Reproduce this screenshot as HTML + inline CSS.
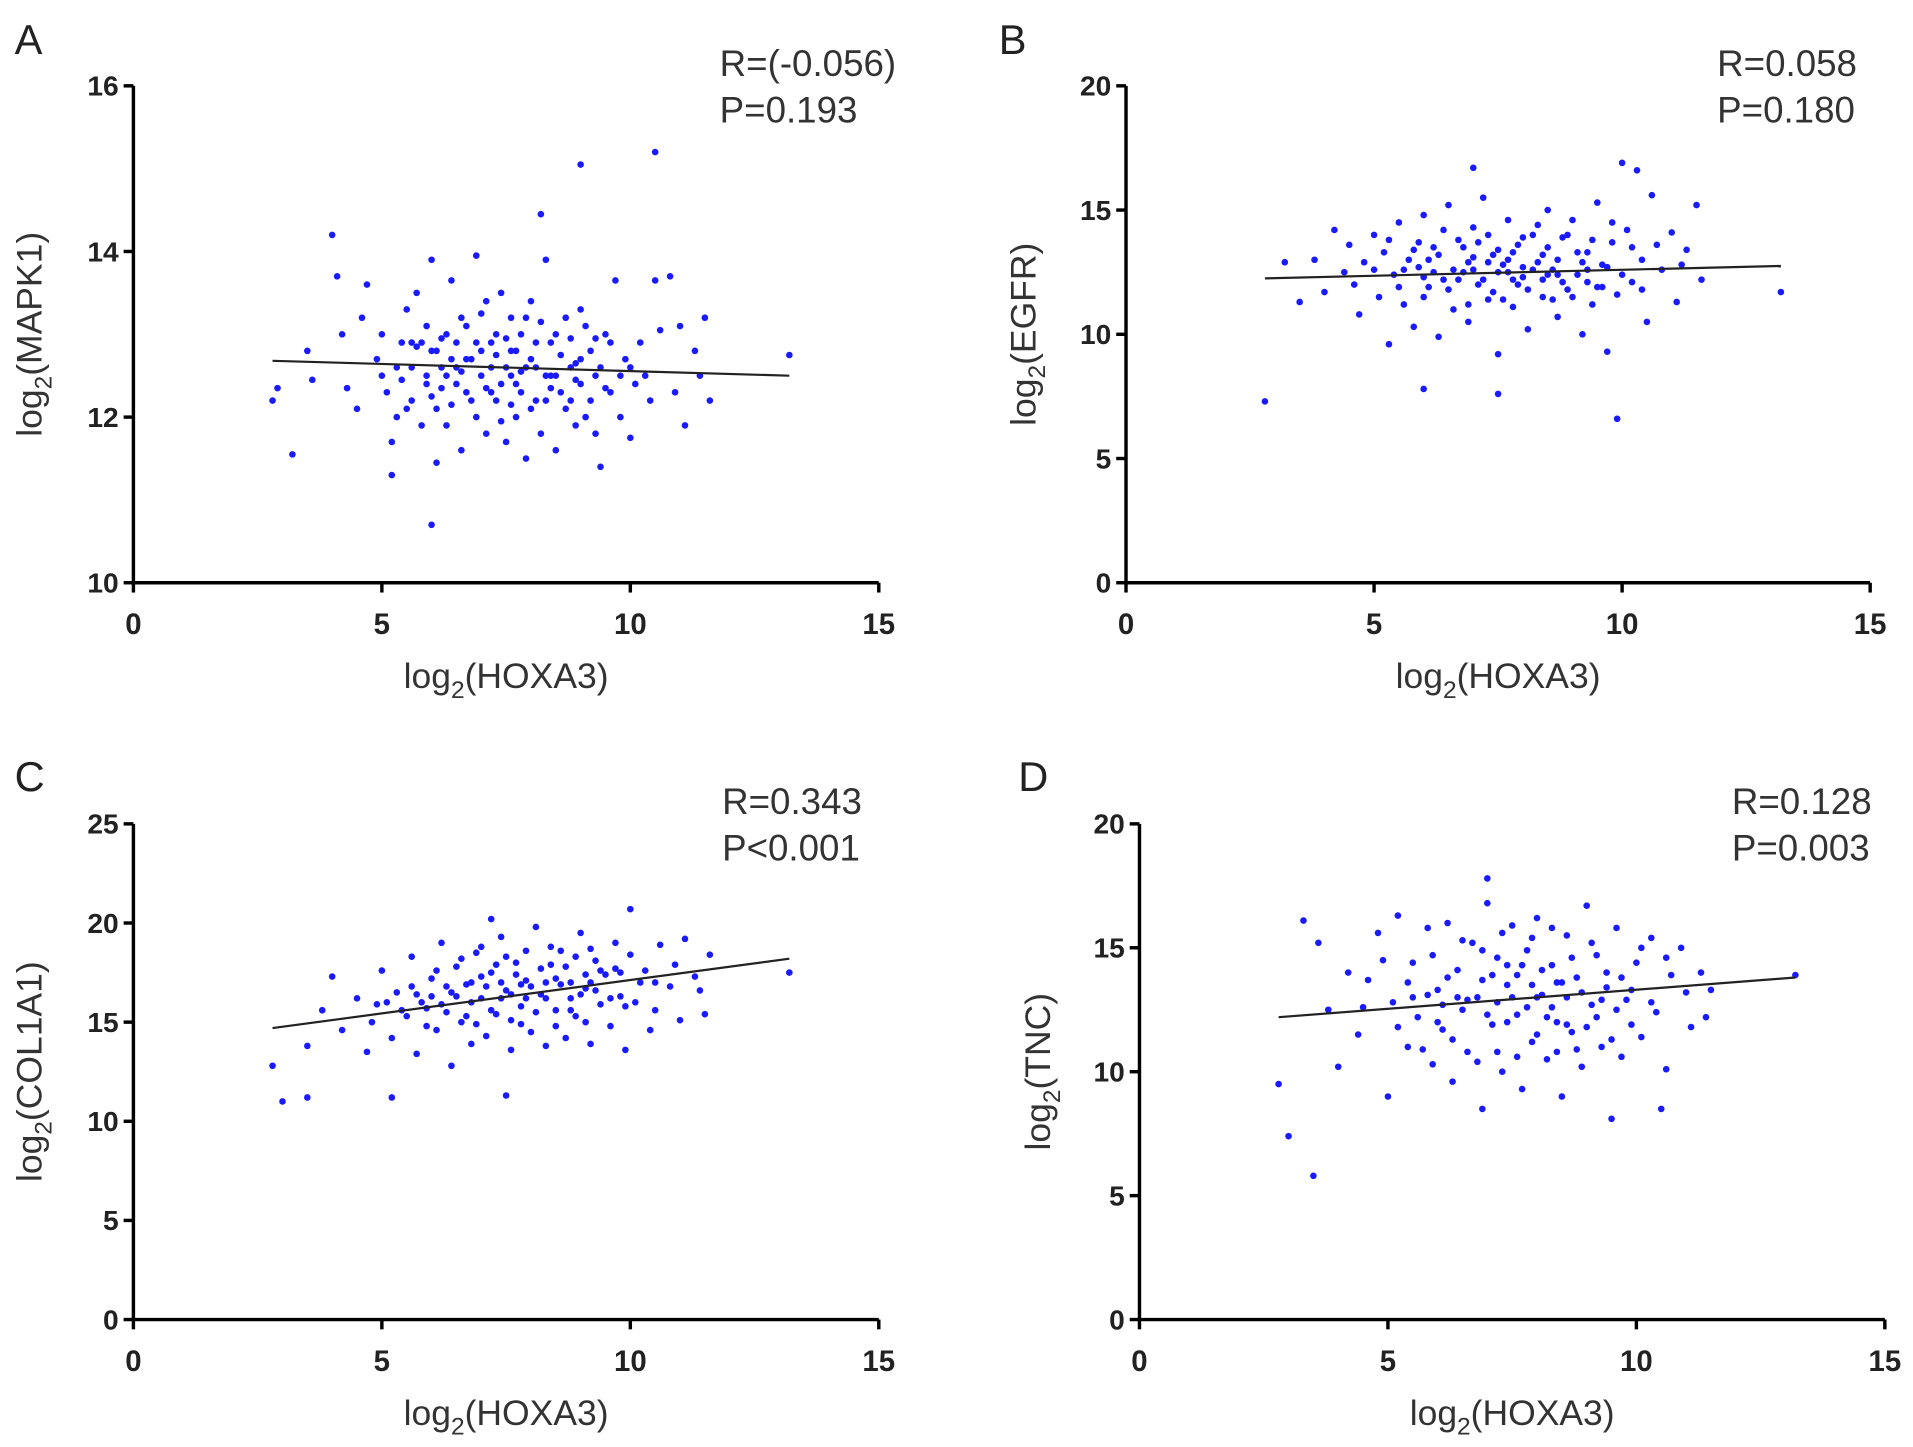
<!DOCTYPE html>
<html><head><meta charset="utf-8">
<style>
html,body{margin:0;padding:0;background:#fff;}
svg{display:block;font-family:"Liberation Sans",Arial,sans-serif;}
</style></head>
<body>
<svg id="fig" width="1913" height="1447" viewBox="0 0 1563 1182" xmlns="http://www.w3.org/2000/svg"></svg>
<script>
// ---- data ----
const xTicks = [0, 5, 10, 15];
const aTicks = [10, 12, 14, 16];
const bTicks = [0, 5, 10, 15, 20];
const cTicks = [0, 5, 10, 15, 20, 25];
const dTicks = [0, 5, 10, 15, 20];
const aLine = [[2.8, 12.68], [13.2, 12.5]];
const bLine = [[2.8, 12.25], [13.2, 12.75]];
const cLine = [[2.8, 14.7], [13.2, 18.2]];
const dLine = [[2.8, 12.2], [13.2, 13.8]];
const aStats = ["R=(-0.056)", "P=0.193"];
const bStats = ["R=0.058", "P=0.180"];
const cStats = ["R=0.343", "P<0.001"];
const dStats = ["R=0.128", "P=0.003"];
const mapk1Points = [[10.5,15.2],[9,15.05],[8.2,14.45],[4,14.2],[4.1,13.7],[6,10.7],[3.2,11.55],[5.2,11.3],[2.8,12.2],[13.2,12.75],[2.9,12.35],
[3.5,12.8],[3.6,12.45],[4.2,13.0],[4.3,12.35],[4.5,12.1],[4.6,13.2],[4.7,13.6],[4.9,12.7],[5.0,13.0],[5.1,12.3],[5.2,11.7],[5.3,12.0],[5.4,12.9],[5.5,13.3],[5.6,12.6],[5.6,12.2],[5.7,13.5],[5.8,12.9],[5.8,11.9],[5.9,12.4],[6.0,13.9],[6.0,12.8],[6.1,12.1],[6.1,11.45],[6.2,12.6],[6.3,13.0],[6.3,11.9],[6.4,13.65],[6.5,12.4],[6.5,12.9],[6.6,11.6],[6.7,13.1],[6.7,12.3],[6.8,12.7],[6.9,13.95],[6.9,12.0],[7.0,12.5],[7.1,13.4],[7.1,11.8],[7.2,12.9],[7.3,12.2],[7.4,13.5],[7.5,12.6],[7.5,11.7],[7.6,13.2],[7.7,12.4],[7.7,12.0],[7.8,13.0],[7.9,11.5],[8.0,12.7],[8.0,13.4],[8.1,12.2],[8.2,11.8],[8.3,13.9],[8.3,12.5],[8.4,12.9],[8.5,11.6],[8.6,12.3],[8.7,13.2],[8.8,12.6],[8.9,11.9],[9.0,13.3],[9.0,12.4],[9.1,12.0],[9.2,12.8],[9.3,11.8],[9.4,11.4],[9.5,13.0],[9.6,12.3],[9.7,13.65],[9.8,12.0],[9.9,12.7],[10.0,11.75],[10.1,12.4],[10.2,12.9],[10.4,12.2],[10.5,13.65],[10.6,13.05],[10.8,13.7],[10.9,12.3],[11.0,13.1],[11.1,11.9],[11.3,12.8],[11.5,13.2],[11.6,12.2],[11.4,12.5],[5.9,12.5],[6.4,12.7],[7.0,12.8],[7.4,12.4],[7.9,12.6],[8.5,12.5],[6.6,12.55],[7.6,12.5],[8.8,12.2],[9.4,12.6],[6.2,12.35],[7.3,12.75],[8.1,12.9],[5.4,12.45],[7.8,12.3],
[5.3,12.6],[5.5,12.1],[5.7,12.85],[5.9,13.1],[6.0,12.25],[6.2,12.95],[6.3,12.5],[6.4,12.15],[6.6,13.2],[6.7,12.7],[6.8,12.2],[6.9,12.9],[7.0,13.25],[7.1,12.35],[7.2,12.6],[7.3,13.0],[7.4,11.95],[7.5,12.95],[7.6,12.15],[7.7,12.8],[7.8,12.55],[7.9,13.2],[8.0,12.1],[8.1,12.6],[8.2,13.15],[8.3,12.2],[8.4,12.5],[8.5,13.0],[8.6,12.75],[8.7,12.1],[8.8,12.95],[8.9,12.45],[9.0,12.7],[9.1,13.1],[9.2,12.2],[9.3,12.5],[9.5,12.35],[9.6,12.9],[9.8,12.5],[10.0,12.6],[10.3,12.5],[5.0,12.5],[6.5,12.6],[7.2,12.3],[8.4,12.35],[9.3,12.95],[6.1,12.8],[7.6,12.8],[8.9,12.65],[5.6,12.9]];
const egfrPoints = [[2.8,7.3],[9.9,6.6],[13.2,11.7],[10.0,16.9],[7.0,16.7],[10.3,16.6],[6.0,7.8],[7.5,7.6],
[3.2,12.9],[3.5,11.3],[3.8,13.0],[4.0,11.7],[4.2,14.2],[4.4,12.5],[4.5,13.6],[4.7,10.8],[4.8,12.9],[5.0,14.0],[5.1,11.5],[5.2,13.3],[5.3,9.6],[5.4,12.4],[5.5,14.5],[5.6,11.2],[5.7,13.0],[5.8,10.3],[5.9,12.7],[6.0,14.8],[6.1,11.9],[6.2,13.5],[6.3,9.9],[6.4,12.2],[6.5,15.2],[6.6,11.0],[6.7,13.8],[6.8,12.5],[6.9,10.5],[7.0,14.3],[7.1,12.0],[7.2,15.5],[7.3,11.4],[7.4,13.2],[7.5,9.2],[7.6,12.8],[7.7,14.6],[7.8,11.1],[7.9,13.6],[8.0,12.3],[8.1,10.2],[8.2,14.0],[8.3,12.9],[8.4,11.5],[8.5,15.0],[8.6,12.6],[8.7,10.7],[8.8,13.9],[8.9,11.8],[9.0,14.6],[9.1,12.4],[9.2,10.0],[9.3,13.3],[9.4,11.2],[9.5,15.3],[9.6,12.8],[9.7,9.3],[9.8,13.7],[9.9,11.6],[10.1,14.2],[10.2,12.1],[10.4,13.0],[10.5,10.5],[10.6,15.6],[10.8,12.6],[11.0,14.1],[11.1,11.3],[11.3,13.4],[11.5,15.2],[11.6,12.2],[6.6,12.6],[7.3,12.9],[8.0,12.7],[8.7,12.4],[6.0,12.3],[7.8,12.2],[9.2,12.9],[5.6,12.6],[7.0,13.1],[8.4,13.2],[9.6,11.9],[6.3,13.2],[7.5,12.5],
[4.6,12.0],[5.0,12.6],[5.3,13.8],[5.5,11.9],[5.8,13.4],[6.0,11.5],[6.2,12.5],[6.4,14.2],[6.5,11.8],[6.7,12.2],[6.8,13.5],[6.9,11.2],[7.0,12.6],[7.1,13.7],[7.2,12.2],[7.3,14.0],[7.4,11.7],[7.5,13.4],[7.6,11.4],[7.7,12.5],[7.8,13.3],[7.9,12.0],[8.0,13.9],[8.1,11.8],[8.2,12.6],[8.3,14.4],[8.4,12.2],[8.5,13.5],[8.6,11.4],[8.7,13.0],[8.8,12.1],[8.9,14.0],[9.0,11.5],[9.1,13.3],[9.3,12.1],[9.4,13.8],[9.5,11.9],[9.7,12.7],[9.8,14.5],[10.0,12.4],[10.2,13.5],[10.4,11.8],[10.7,13.6],[11.2,12.8],[6.1,13.0],[6.9,12.9],[7.7,13.0],[8.5,12.4],[9.3,12.6],[5.9,13.7]];
const col1a1Points = [[2.8,12.8],[3,11],[3.5,11.2],[5.2,11.2],[7.5,11.3],[13.2,17.5],[10,20.7],[7.2,20.2],
[3.5,13.8],[3.8,15.6],[4.0,17.3],[4.2,14.6],[4.5,16.2],[4.7,13.5],[4.9,15.9],[5.0,17.6],[5.2,14.2],[5.3,16.5],[5.5,15.3],[5.6,18.3],[5.7,13.4],[5.8,16.0],[6.0,17.2],[6.1,14.6],[6.2,19.0],[6.3,15.5],[6.4,12.8],[6.5,17.8],[6.6,15.0],[6.7,16.9],[6.8,13.9],[6.9,18.5],[7.0,16.2],[7.1,14.3],[7.2,17.5],[7.3,15.4],[7.4,19.3],[7.5,16.6],[7.6,13.6],[7.7,18.0],[7.8,15.8],[7.9,17.1],[8.0,14.5],[8.1,19.8],[8.2,16.4],[8.3,13.8],[8.4,17.9],[8.5,15.6],[8.6,18.6],[8.7,14.2],[8.8,17.0],[8.9,15.3],[9.0,19.5],[9.1,16.7],[9.2,13.9],[9.3,18.1],[9.4,15.9],[9.5,17.4],[9.6,14.8],[9.7,19.0],[9.8,16.3],[9.9,13.6],[10.0,18.4],[10.1,16.0],[10.3,17.6],[10.4,14.6],[10.6,18.9],[10.8,16.8],[11.0,15.1],[11.1,19.2],[11.3,17.3],[11.5,15.4],[11.6,18.4],[6.3,16.8],[7.0,17.3],[7.8,16.9],[8.5,17.2],[9.2,17.0],[5.9,15.7],[6.8,16.0],[7.6,16.4],[8.8,16.2],[9.8,17.5],[10.5,17.0],[6.0,16.3],
[4.8,15.0],[5.1,16.0],[5.4,15.6],[5.6,16.8],[5.9,14.8],[6.1,17.6],[6.2,15.9],[6.4,16.5],[6.6,18.2],[6.7,15.3],[6.8,17.0],[6.9,14.9],[7.0,18.8],[7.1,16.8],[7.2,15.6],[7.3,17.9],[7.4,16.2],[7.5,18.3],[7.6,15.1],[7.7,17.4],[7.8,14.9],[7.9,18.6],[8.0,16.8],[8.1,15.5],[8.2,17.7],[8.3,16.2],[8.4,18.8],[8.5,14.8],[8.6,16.9],[8.7,17.8],[8.8,15.6],[8.9,18.3],[9.0,16.4],[9.1,15.0],[9.2,18.7],[9.3,16.6],[9.4,17.6],[9.6,16.2],[9.7,17.7],[9.9,15.8],[10.2,17.0],[10.5,15.6],[10.9,17.9],[11.4,16.6],[6.5,16.3],[7.4,17.0],[8.3,17.0],[9.1,17.4],[5.7,16.4],[7.9,16.2]];
const tncPoints = [[2.8,9.5],[3,7.4],[3.5,5.8],[7,17.8],[13.2,13.9],[9.5,8.1],[10.5,8.5],
[3.3,16.1],[3.6,15.2],[3.8,12.5],[4.0,10.2],[4.2,14.0],[4.4,11.5],[4.6,13.7],[4.8,15.6],[5.0,9.0],[5.1,12.8],[5.2,16.3],[5.4,11.0],[5.5,14.4],[5.6,12.2],[5.8,15.8],[5.9,10.3],[6.0,13.3],[6.1,11.7],[6.2,16.0],[6.3,9.6],[6.4,14.1],[6.5,12.5],[6.6,10.8],[6.7,15.2],[6.8,13.0],[6.9,8.5],[7.0,16.8],[7.1,11.9],[7.2,14.6],[7.3,10.0],[7.4,13.5],[7.5,15.9],[7.6,12.3],[7.7,9.3],[7.8,14.9],[7.9,11.2],[8.0,16.2],[8.1,13.1],[8.2,10.5],[8.3,14.3],[8.4,12.0],[8.5,9.0],[8.6,15.5],[8.7,11.6],[8.8,13.8],[8.9,10.2],[9.0,16.7],[9.1,12.7],[9.2,14.7],[9.3,11.0],[9.4,13.4],[9.6,15.8],[9.7,10.6],[9.8,12.9],[10.0,14.4],[10.1,11.4],[10.3,15.4],[10.4,12.4],[10.6,10.1],[10.7,13.9],[10.9,15.0],[11.1,11.8],[11.3,14.0],[11.5,13.3],[6.4,13.0],[7.2,12.8],[7.9,13.5],[8.6,13.0],[9.3,12.9],[5.8,13.1],[7.6,13.9],[8.3,12.6],[9.9,13.3],[6.9,13.7],[11.4,12.2],
[4.5,12.6],[4.9,14.5],[5.2,11.8],[5.4,13.6],[5.7,10.9],[5.9,14.7],[6.0,12.0],[6.2,13.8],[6.3,11.3],[6.5,15.3],[6.6,12.9],[6.8,10.4],[6.9,14.9],[7.0,12.3],[7.1,13.9],[7.2,10.8],[7.3,15.6],[7.4,12.0],[7.5,13.0],[7.6,10.6],[7.7,14.3],[7.8,12.6],[7.9,15.4],[8.0,11.5],[8.1,14.1],[8.2,12.2],[8.3,15.8],[8.4,10.8],[8.5,13.6],[8.6,11.9],[8.7,14.6],[8.8,10.9],[8.9,13.2],[9.0,11.8],[9.1,15.2],[9.2,12.2],[9.4,14.0],[9.5,11.3],[9.7,13.8],[9.9,11.9],[10.1,15.0],[10.3,12.8],[10.6,14.6],[11.0,13.2],[6.1,12.7],[7.4,14.3],[8.4,13.6],[9.6,12.5],[5.5,13.0],[8.0,13.0]];

// ---- layout ----
const NS = "http://www.w3.org/2000/svg";
const svg = document.getElementById('fig');
function mk(tag, attrs, parent, text) {
  const e = document.createElementNS(NS, tag);
  for (const k in attrs) e.setAttribute(k, attrs[k]);
  if (text !== undefined) e.textContent = text;
  (parent || svg).appendChild(e);
  return e;
}
function panel(cfg) {
  const g = mk('g', {});
  
  
  const yMin = cfg.ticks[0], yMax = cfg.ticks[cfg.ticks.length - 1];
  const sx = v => cfg.ox + (v - 0) / 15 * (cfg.x15 - cfg.ox);
  const sy = v => cfg.yb - (v - yMin) / (yMax - yMin) * (cfg.yb - cfg.yt);
  const pts = mk('g', {fill: '#1a1aff'}, g);
  
  
  cfg.points.forEach(p => {
    const c = mk('circle', {cx: sx(p[0]), cy: sy(p[1]), r: 2.7}, pts);
    
    
  });
  const ln = mk('line', {x1: sx(cfg.line[0][0]), y1: sy(cfg.line[0][1]), x2: sx(cfg.line[1][0]), y2: sy(cfg.line[1][1]), stroke: '#222', 'stroke-width': 1.8}, g);
  
  
  const ax = mk('path', {d: `M${cfg.ox},${cfg.yt} V${cfg.yb} H${cfg.x15}`, stroke: '#000', 'stroke-width': 2.8, fill: 'none'}, g);
  
  
  cfg.ticks.forEach(t => {
    const y = sy(t);
    mk('line', {x1: cfg.ox - 8, x2: cfg.ox, y1: y, y2: y, stroke: '#000', 'stroke-width': 2.8}, g);
    const tl = mk('text', {x: cfg.ox - 12, y: y + 8, 'text-anchor': 'end', 'font-size': 23, 'font-weight': 'bold', fill: '#222'}, g, String(t));
    
    
  });
  xTicks.forEach(t => {
    const x = sx(t);
    mk('line', {x1: x, x2: x, y1: cfg.yb, y2: cfg.yb + 8, stroke: '#000', 'stroke-width': 2.8}, g);
    const tl = mk('text', {x: x, y: cfg.yb + 42, 'text-anchor': 'middle', 'font-size': 24, 'font-weight': 'bold', fill: '#222'}, g, String(t));
    
    
  });
  const xt = mk('text', {x: (cfg.ox + cfg.x15) / 2, y: cfg.yb + 86, 'text-anchor': 'middle', 'font-size': 29, fill: '#333'}, g);
  
  
  mk('tspan', {}, xt, 'log');
  mk('tspan', {dy: 8, 'font-size': 20}, xt, '2');
  mk('tspan', {dy: -8}, xt, '(HOXA3)');
  const cy = (cfg.yt + cfg.yb) / 2;
  const yt = mk('text', {x: cfg.ytx, y: cy, 'text-anchor': 'middle', 'font-size': 29, fill: '#333', transform: `rotate(-90 ${cfg.ytx} ${cy})`}, g);
  
  
  mk('tspan', {}, yt, 'log');
  mk('tspan', {dy: 8, 'font-size': 20}, yt, '2');
  mk('tspan', {dy: -8}, yt, '(' + cfg.gene + ')');
  const lt = mk('text', {x: cfg.lx, y: cfg.ly, 'font-size': 34, fill: '#222'}, g, cfg.letter);
  
  
  cfg.stats.forEach((s, i) => {
    const st = mk('text', {x: cfg.sx, y: cfg.sy + i * 38, 'font-size': 30, fill: '#333'}, g, s);
    
    
  });
}
panel({key: 'a', letter: 'A', gene: 'MAPK1', ox: 109, x15: 718, yt: 70, yb: 476, ticks: aTicks, points: mapk1Points, line: aLine, stats: aStats, ytx: 34, lx: 12, ly: 44, sx: 588, sy: 62});
panel({key: 'b', letter: 'B', gene: 'EGFR', ox: 920, x15: 1528, yt: 70, yb: 476, ticks: bTicks, points: egfrPoints, line: bLine, stats: bStats, ytx: 846, lx: 816, ly: 44, sx: 1403, sy: 62});
panel({key: 'c', letter: 'C', gene: 'COL1A1', ox: 109, x15: 718, yt: 673, yb: 1078, ticks: cTicks, points: col1a1Points, line: cLine, stats: cStats, ytx: 34, lx: 12, ly: 646, sx: 590, sy: 665});
panel({key: 'd', letter: 'D', gene: 'TNC', ox: 931, x15: 1540, yt: 673, yb: 1078, ticks: dTicks, points: tncPoints, line: dLine, stats: dStats, ytx: 858, lx: 832, ly: 646, sx: 1415, sy: 665});
</script>
</body></html>
